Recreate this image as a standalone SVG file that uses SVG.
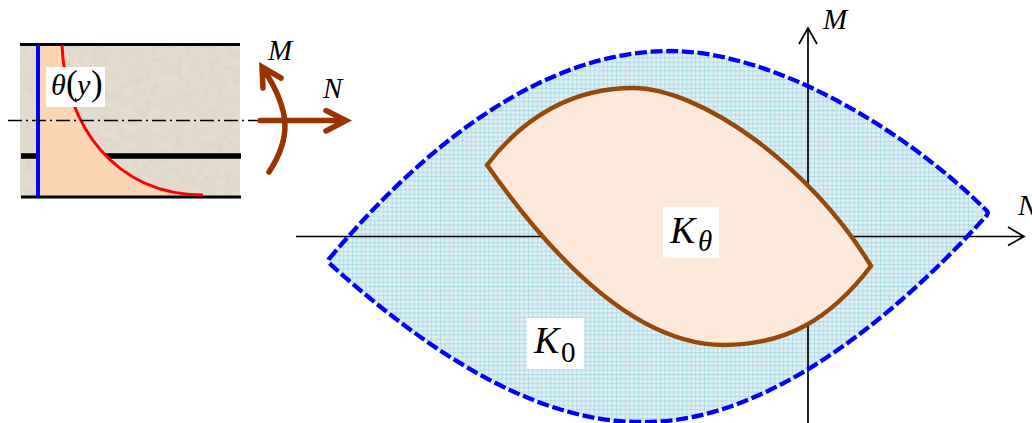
<svg xmlns="http://www.w3.org/2000/svg" width="1032" height="423" viewBox="0 0 1032 423">
<style>
.t{font-family:"Liberation Serif","Times New Roman",serif;font-style:italic;fill:#000}
.u{font-family:"Liberation Serif","Times New Roman",serif;fill:#000}
.ax{fill:none;stroke:#000;stroke-width:1.7}
.br{fill:none;stroke:#993300;stroke-width:5.5;stroke-linecap:round;stroke-linejoin:miter}
.bk{stroke:#000}
</style>
<defs>
<pattern id="grid" width="4.4" height="4.4" patternUnits="userSpaceOnUse">
<rect width="4.4" height="4.4" fill="#dff1f5"/>
<path d="M0.5 0V4.4M0 0.5H4.4" stroke="#b2dce7" stroke-width="1"/>
</pattern>
<filter id="stone" x="0" y="0" width="100%" height="100%">
<feTurbulence type="fractalNoise" baseFrequency="0.12" numOctaves="3" seed="4"/>
<feColorMatrix type="matrix" values="0 0 0 0 0.55  0 0 0 0 0.5  0 0 0 0 0.42  0.9 0.9 0 0 -0.75"/>
</filter>
</defs>
<rect width="1032" height="423" fill="#fff"/>
<g id="section">
<rect x="20" y="45" width="220" height="152" fill="#e4dccf"/>
<rect x="20" y="45" width="220" height="152" filter="url(#stone)" opacity="0.35"/>
<path d="M21 156H241" class="bk" stroke-width="5.500"/>
<path d="M38 45H62C65 125 115 195 203 195L203 197H38Z" fill="#fcd5b5"/>
<path d="M20 44.500H240M21 197H241" class="bk" stroke-width="3"/>
<path d="M38 45V197" stroke="#0000ff" stroke-width="4"/>
<path d="M62 45C65 125 115 195 203 195" fill="none" stroke="#ff0000" stroke-width="3"/>
<rect x="46" y="67" width="59" height="40" fill="#fff"/>
<text x="51" y="95" class="t" font-size="30">θ</text>
<text x="66" y="95" class="u" font-size="35">(</text>
<text x="77" y="95" class="t" font-size="30">y</text>
<text x="91" y="95" class="u" font-size="35">)</text>
<path d="M8 120.500H258" stroke="#000" stroke-width="1.400" stroke-dasharray="14 4 2 4" fill="none"/>
</g>
<g id="load-arrows">
<path class="br" d="M260 120.500H345M326 110.500L346 120.500L326 131"/>
<path class="br" d="M269 172C292 137 290 110 264 70M263 88L262 67L281 78"/>
<text x="268" y="60" class="t" font-size="29">M</text>
<text x="323" y="98" class="t" font-size="29">N</text>
</g>
<g id="K0">
<path d="M329 259C420 150 540 51 670 51C770 51 900 125 986 210Q989 212 987 215C920 290 780 425 640 422C530 422 420 345 329 263Q328 261 329 259Z" fill="url(#grid)" stroke="none"/>
</g>
<g id="connectors">
<path class="ax" d="M296 236.500H1023M1008 227L1024 236.500L1008 245.500"/>
<path class="ax" d="M808 423V29M799 44L808 28L817 44"/>
</g>
<g id="K0-outline">
<path d="M329 259C420 150 540 51 670 51C770 51 900 125 986 210Q989 212 987 215C920 290 780 425 640 422C530 422 420 345 329 263Q328 261 329 259Z" fill="none" stroke="#0000ff" stroke-width="4.300" stroke-dasharray="12 3.700" stroke-linejoin="round"/>
</g>
<g id="Ktheta">
<path d="M487 165C525 115 575 88 633 88C700 88 810 165 871 266C830 320 785 345 724 345C640 345 558 266 487 165Z" fill="#fde9d9" stroke="#984807" stroke-width="4.400"/>
</g>
<rect x="663" y="207" width="56" height="51" fill="#fff"/>
<text x="670" y="243" class="t" font-size="38">K</text>
<text x="698" y="251" class="t" font-size="29">θ</text>
<rect x="527" y="318" width="57" height="51" fill="#fff"/>
<text x="534" y="353" class="t" font-size="38">K</text>
<text x="561" y="362" class="u" font-size="29">0</text>
<text x="823" y="29" class="t" font-size="29">M</text>
<text x="1018" y="215" class="t" font-size="29">N</text>
</svg>
